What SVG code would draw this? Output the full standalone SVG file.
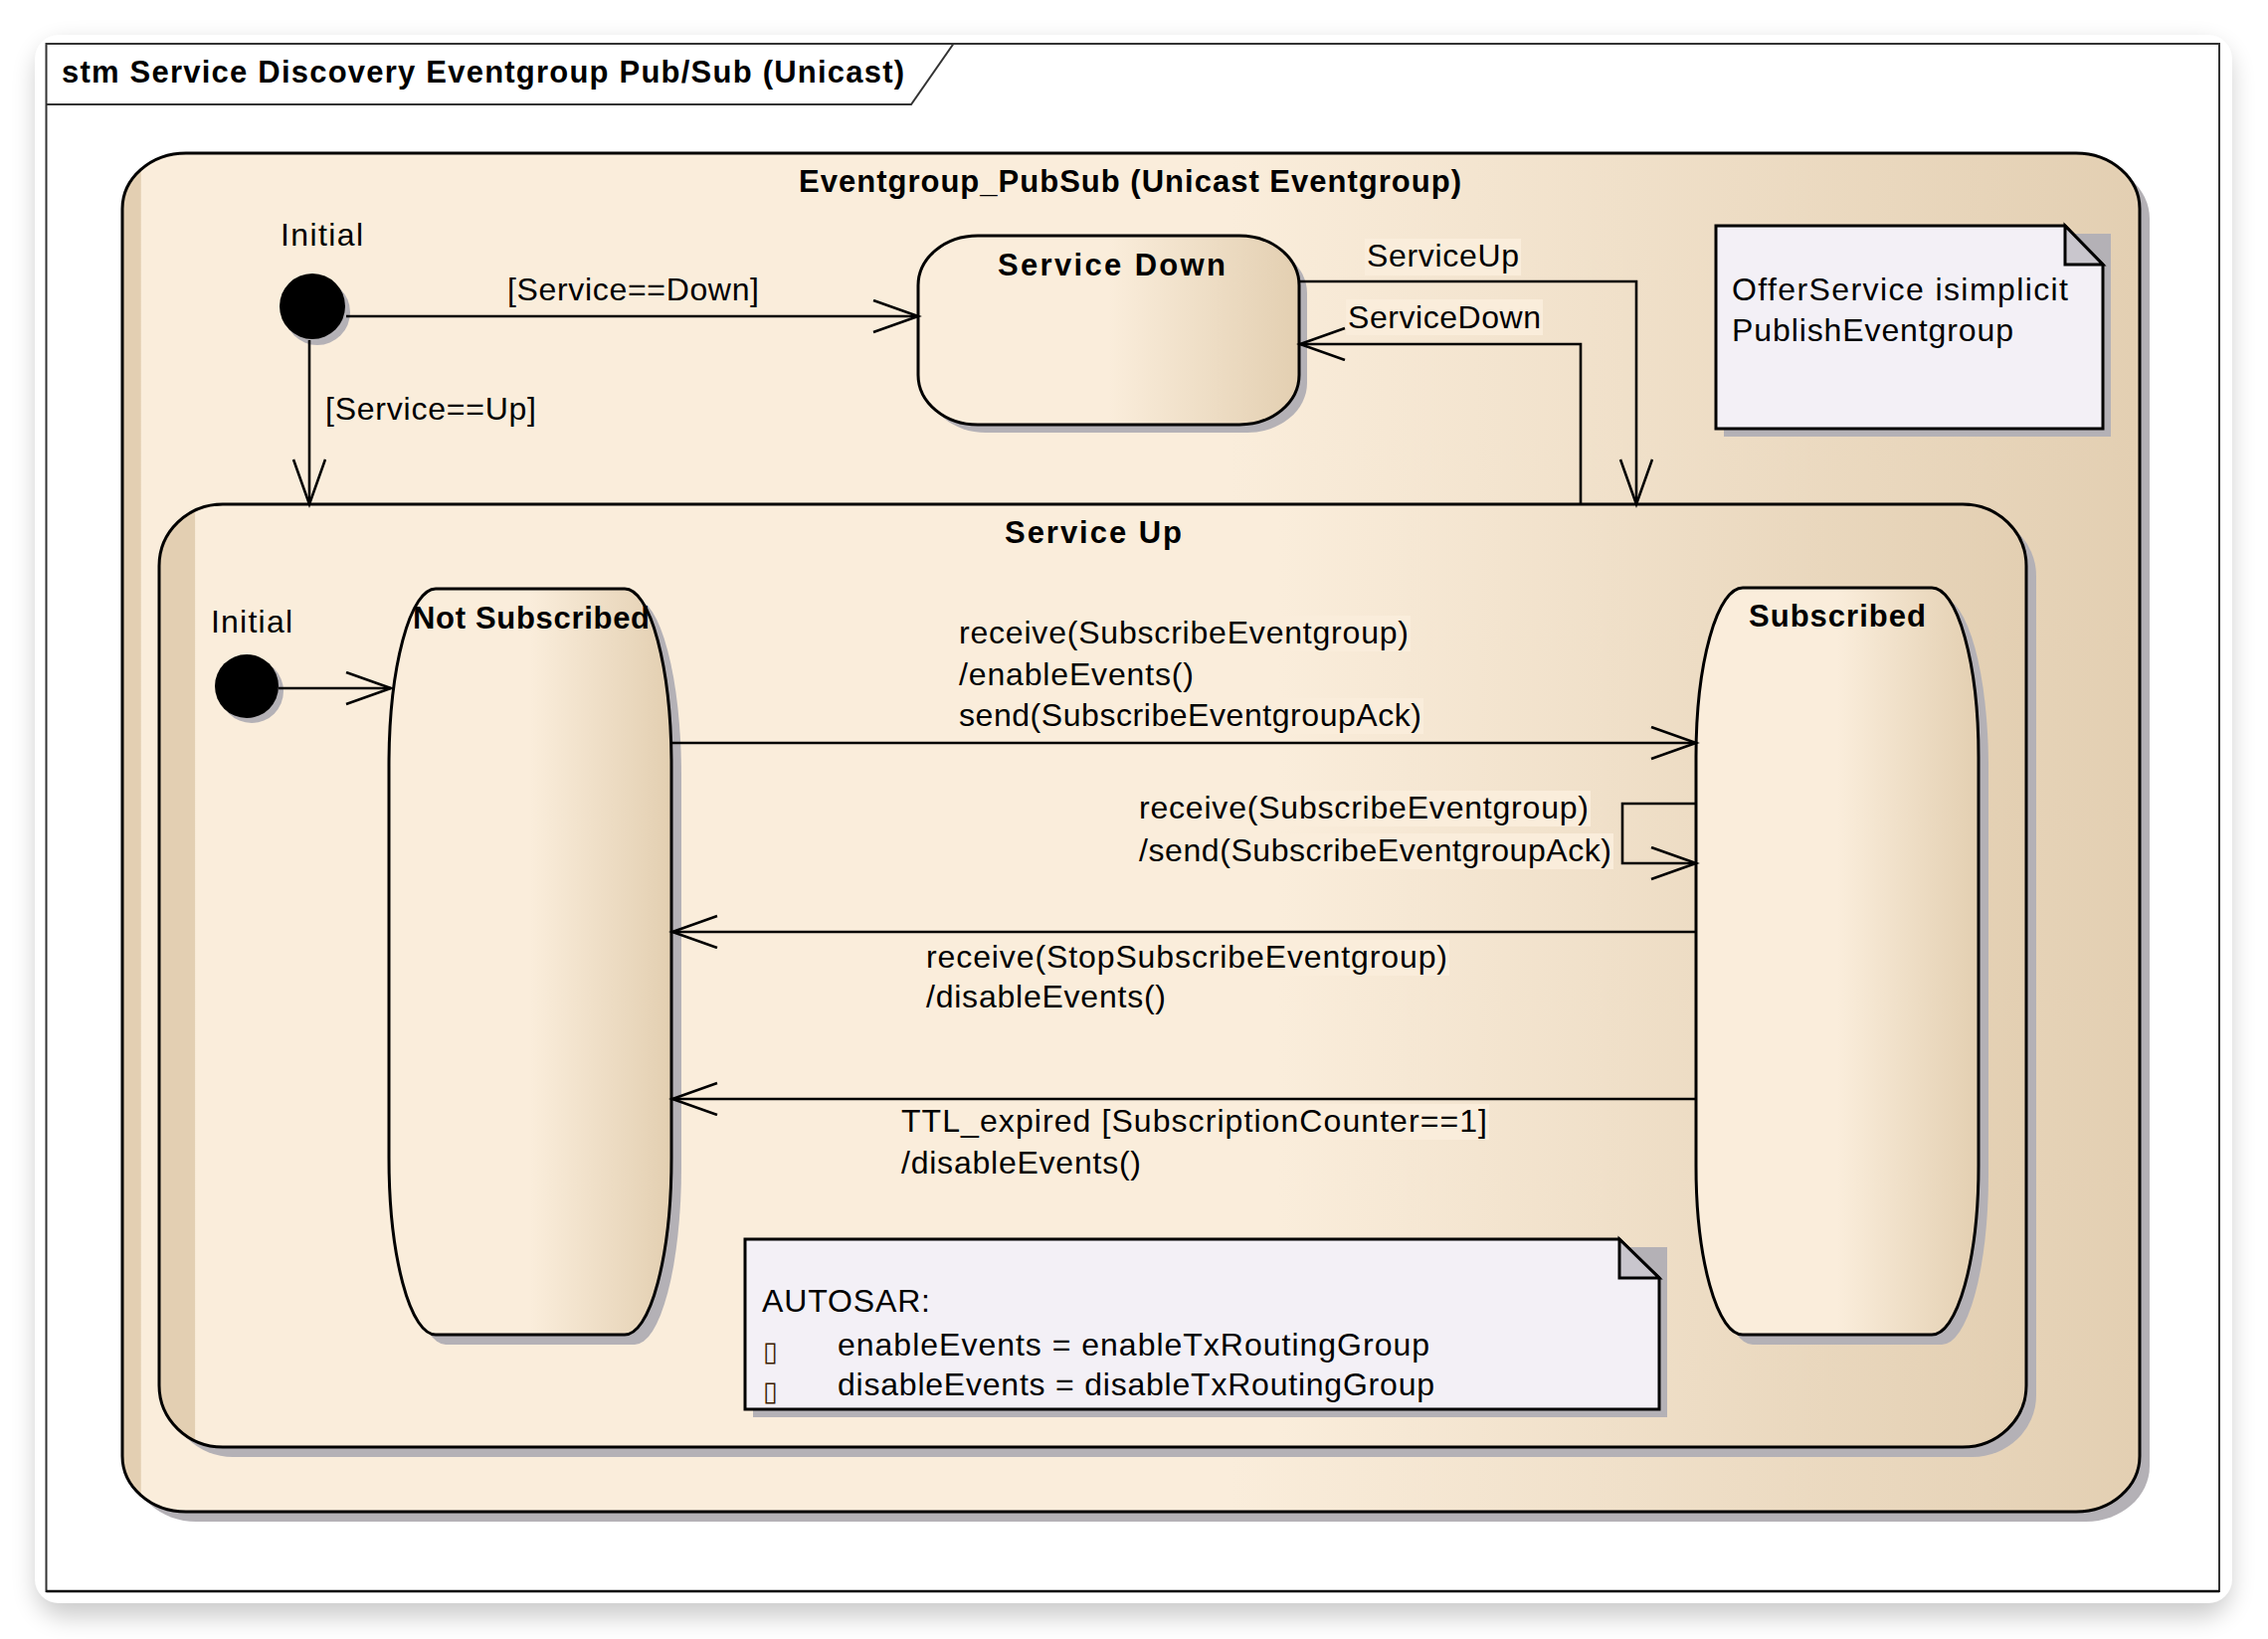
<svg xmlns="http://www.w3.org/2000/svg" width="2280" height="1648" viewBox="0 0 2280 1648">
<defs>
  <style>
    text { font-family: "Liberation Sans", Arial, sans-serif; fill: #000; }
    .lbl { font-size: 32px; }
    .bold { font-size: 31px; font-weight: bold; }
    .st { stroke: #000; stroke-width: 3; }
    .shadow { fill: #B4B1B6; }
    .edge { fill: none; stroke: #000; stroke-width: 2.6; }
    .arr { marker-end: url(#openArrow); }
    .lblbg { fill: #FAEDDB; }
    .note { fill: #F3F0F6; stroke: #000; stroke-width: 3; }
    .fold { fill: #C9C6CD; stroke: #000; stroke-width: 3; stroke-linejoin: miter; }
    .bullet { font-family: "DejaVu Sans", sans-serif; font-size: 27px; fill: #3a1a00; }
  </style>
  <linearGradient id="gOuter" x1="0" y1="0" x2="1" y2="0">
    <stop offset="0" stop-color="#E3CFB2"/>
    <stop offset="0.009" stop-color="#E3CFB2"/>
    <stop offset="0.0095" stop-color="#FAEDDB"/>
    <stop offset="0.55" stop-color="#FAEDDB"/>
    <stop offset="1" stop-color="#E3CFB2"/>
  </linearGradient>
  <linearGradient id="gUp" x1="0" y1="0" x2="1" y2="0">
    <stop offset="0" stop-color="#E3CFB2"/>
    <stop offset="0.019" stop-color="#E3CFB2"/>
    <stop offset="0.0195" stop-color="#FAEDDB"/>
    <stop offset="0.6" stop-color="#FAEDDB"/>
    <stop offset="1" stop-color="#E3CFB2"/>
  </linearGradient>
  <linearGradient id="gState" x1="0" y1="0" x2="1" y2="0">
    <stop offset="0" stop-color="#FAEDDB"/>
    <stop offset="0.5" stop-color="#FAEDDB"/>
    <stop offset="1" stop-color="#E3CFB1"/>
  </linearGradient>
  <filter id="blur" x="-5%" y="-5%" width="110%" height="115%">
    <feGaussianBlur stdDeviation="12"/>
  </filter>
  <marker id="openArrow" viewBox="0 0 50 36" refX="46" refY="17" markerWidth="50" markerHeight="36" markerUnits="userSpaceOnUse" orient="auto">
    <path d="M1,1 L46,17 L1,33" fill="none" stroke="#000" stroke-width="2.6"/>
  </marker>
</defs>

<!-- card and frame -->
<g id="card">
  <rect x="36" y="44" width="2207" height="1582" rx="30" fill="#000" opacity="0.2" filter="url(#blur)"/>
  <rect x="35" y="35" width="2209" height="1577" rx="24" fill="#FFFFFF"/>
</g>
<g id="frame">
  <rect x="46.5" y="44" width="2184.5" height="1556" fill="none" stroke="#333" stroke-width="2"/>
  <path d="M46.5,1600 L2231,1600" stroke="#000" stroke-width="2.5"/>
  <path d="M46.5,105 L916,105 L958.5,44" fill="none" stroke="#333" stroke-width="2"/>
  <text class="bold" x="62" y="83" textLength="847">stm Service Discovery Eventgroup Pub/Sub (Unicast)</text>
</g>

<!-- outer composite state -->
<g id="node-eventgroup-pubsub">
  <rect class="shadow" x="133" y="164" width="2028" height="1366" rx="64" ry="56"/>
  <rect class="st" x="123" y="154" width="2028" height="1366" rx="64" ry="56" fill="url(#gOuter)"/>
  <text class="bold" x="803" y="193" textLength="666">Eventgroup_PubSub (Unicast Eventgroup)</text>
</g>

<g id="node-initial-outer">
  <text class="lbl" x="282" y="247" textLength="83">Initial</text>
  <circle class="shadow" cx="319" cy="314" r="33"/>
  <circle cx="314" cy="308" r="33" fill="#000"/>
</g>

<g id="node-service-down">
  <rect class="shadow" x="931" y="245" width="383" height="190" rx="60" ry="50"/>
  <rect class="st" x="923" y="237" width="383" height="190" rx="60" ry="50" fill="url(#gState)"/>
  <text class="bold" x="1003" y="277" textLength="229">Service Down</text>
</g>

<g id="node-note-offer">
  <rect class="shadow" x="1733" y="235" width="389" height="204"/>
  <path class="note" d="M1725,227 L2076,227 L2114,266 L2114,431 L1725,431 Z"/>
  <path class="fold" d="M2076,227 L2114,266 L2076,266 Z"/>
  <text class="lbl" x="1741" y="302" textLength="338">OfferService isimplicit</text>
  <text class="lbl" x="1741" y="343" textLength="283">PublishEventgroup</text>
</g>

<g id="node-service-up">
  <rect class="shadow" x="170" y="517" width="1877" height="948" rx="64" ry="62"/>
  <rect class="st" x="160" y="507" width="1877" height="948" rx="64" ry="62" fill="url(#gUp)"/>
  <text class="bold" x="1010" y="546" textLength="178">Service Up</text>
</g>

<g id="node-initial-inner">
  <text class="lbl" x="212" y="636" textLength="82">Initial</text>
  <circle class="shadow" cx="253" cy="695" r="32"/>
  <circle cx="248" cy="690" r="32" fill="#000"/>
</g>

<g id="node-not-subscribed">
  <rect class="shadow" x="401" y="602" width="284" height="750" rx="47" ry="178"/>
  <rect class="st" x="391" y="592" width="284" height="750" rx="47" ry="178" fill="url(#gState)"/>
  <text class="bold" x="415" y="632" textLength="238">Not Subscribed</text>
</g>

<g id="node-subscribed">
  <rect class="shadow" x="1715" y="601" width="284" height="751" rx="47" ry="170"/>
  <rect class="st" x="1705" y="591" width="284" height="751" rx="47" ry="170" fill="url(#gState)"/>
  <text class="bold" x="1758" y="630" textLength="178">Subscribed</text>
</g>

<g id="node-note-autosar">
  <rect class="shadow" x="757" y="1254" width="919" height="171"/>
  <path class="note" d="M749,1246 L1628,1246 L1668,1285 L1668,1417 L749,1417 Z"/>
  <path class="fold" d="M1628,1246 L1668,1285 L1628,1285 Z"/>
  <text class="lbl" x="766" y="1319" textLength="169">AUTOSAR:</text>
  <text class="bullet" x="767" y="1368">▯</text>
  <text class="lbl" x="842" y="1363" textLength="595">enableEvents = enableTxRoutingGroup</text>
  <text class="bullet" x="767" y="1408">▯</text>
  <text class="lbl" x="842" y="1403" textLength="600">disableEvents = disableTxRoutingGroup</text>
</g>

<!-- connectors -->
<g id="connectors">
  <path class="edge arr" d="M348,318 L923,318"/>
  <text class="lbl" x="510" y="302" textLength="253">[Service==Down]</text>

  <path class="edge arr" d="M311,342 L311,507"/>
  <text class="lbl" x="327" y="422" textLength="212">[Service==Up]</text>

  <path class="edge arr" d="M1306,283 L1645,283 L1645,507"/>
  <rect class="lblbg" x="1372" y="240" width="157" height="37"/>
  <text class="lbl" x="1374" y="268" textLength="153">ServiceUp</text>

  <path class="edge arr" d="M1589,507 L1589,346 L1307,346"/>
  <rect class="lblbg" x="1353" y="301" width="198" height="36"/>
  <text class="lbl" x="1355" y="330" textLength="194">ServiceDown</text>

  <path class="edge arr" d="M280,692 L393,692"/>

  <path class="edge arr" d="M676,747 L1705,747"/>
  <rect class="lblbg" x="962" y="619" width="456" height="36"/>
  <text class="lbl" x="964" y="647" textLength="452">receive(SubscribeEventgroup)</text>
  <rect class="lblbg" x="962" y="661" width="240" height="36"/>
  <text class="lbl" x="964" y="689" textLength="236">/enableEvents()</text>
  <rect class="lblbg" x="962" y="702" width="469" height="36"/>
  <text class="lbl" x="964" y="730" textLength="465">send(SubscribeEventgroupAck)</text>

  <path class="edge arr" d="M1705,808 L1631,808 L1631,868 L1705,868"/>
  <rect class="lblbg" x="1143" y="795" width="456" height="36"/>
  <text class="lbl" x="1145" y="823" textLength="452">receive(SubscribeEventgroup)</text>
  <rect class="lblbg" x="1143" y="838" width="479" height="36"/>
  <text class="lbl" x="1145" y="866" textLength="475">/send(SubscribeEventgroupAck)</text>

  <path class="edge arr" d="M1705,937 L676,937"/>
  <rect class="lblbg" x="929" y="945" width="528" height="36"/>
  <text class="lbl" x="931" y="973" textLength="524">receive(StopSubscribeEventgroup)</text>
  <rect class="lblbg" x="929" y="985" width="245" height="36"/>
  <text class="lbl" x="931" y="1013" textLength="241">/disableEvents()</text>

  <path class="edge arr" d="M1705,1105 L676,1105"/>
  <rect class="lblbg" x="904" y="1110" width="593" height="36"/>
  <text class="lbl" x="906" y="1138" textLength="589">TTL_expired [SubscriptionCounter==1]</text>
  <rect class="lblbg" x="904" y="1152" width="245" height="36"/>
  <text class="lbl" x="906" y="1180" textLength="241">/disableEvents()</text>
</g>
</svg>
